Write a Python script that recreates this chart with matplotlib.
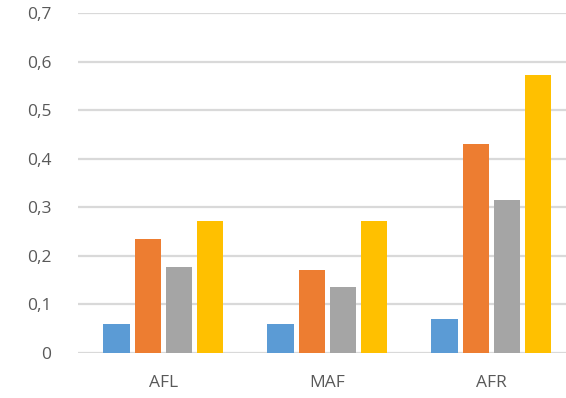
import matplotlib
matplotlib.use("Agg")
import matplotlib.pyplot as plt
import numpy as np
from matplotlib.ticker import FuncFormatter

# data
categories = ["AFL", "MAF", "AFR"]
series_1 = [0.06, 0.06, 0.07]
series_2 = [0.235, 0.17, 0.43]
series_3 = [0.177, 0.135, 0.315]
series_4 = [0.272, 0.272, 0.573]
y_ticks = [0, 0.1, 0.2, 0.3, 0.4, 0.5, 0.6, 0.7]

colors = ["#5B9BD5", "#ED7D31", "#A5A5A5", "#FFC000"]

plt.rcParams["font.family"] = ["Open Sans", "DejaVu Sans"]

fig = plt.figure(figsize=(5.66, 3.98), dpi=100)
ax = fig.add_axes([78 / 566, 45 / 398, 492 / 566, 340 / 398])

x = np.arange(len(categories))
width = 0.16
pitch = 0.19
for i, values in enumerate([series_1, series_2, series_3, series_4]):
    ax.bar(x + (i - 1.5) * pitch, values, width=width, color=colors[i], zorder=3)

ax.set_xlim(-0.52, len(categories) - 0.52)
ax.set_ylim(0, 0.7)
ax.set_yticks(y_ticks)
ax.yaxis.set_major_formatter(FuncFormatter(lambda v, _: "0" if v == 0 else f"{v:.1f}".replace(".", ",")))
ax.set_xticks(x)
ax.set_xticklabels(categories)

ax.grid(axis="y", color="#D9D9D9", linewidth=1.6, zorder=0)
for side in ["top", "right", "left", "bottom"]:
    ax.spines[side].set_visible(False)
ax.tick_params(axis="both", length=0, labelsize=12.5, labelcolor="#595959")
ax.tick_params(axis="y", pad=19)
ax.tick_params(axis="x", pad=16)

fig.savefig("out.png", dpi=100)
